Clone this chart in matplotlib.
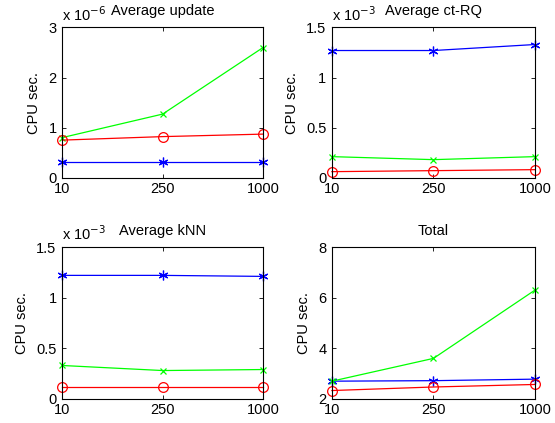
import matplotlib
matplotlib.use('Agg')
import matplotlib.pyplot as plt

plt.rcParams['font.family'] = ['Liberation Sans', 'DejaVu Sans']
plt.rcParams['font.size'] = 10

# x categories (number of ...), plotted at equal spacing
x_labels = ['10', '250', '1000']

# Average update, seconds (x 1e-6)
update_blue = [0.32e-6, 0.32e-6, 0.32e-6]
update_green = [0.80e-6, 1.27e-6, 2.60e-6]
update_red = [0.75e-6, 0.82e-6, 0.87e-6]

# Average ct-RQ, seconds (x 1e-3)
ctrq_blue = [1.27e-3, 1.27e-3, 1.33e-3]
ctrq_green = [0.21e-3, 0.18e-3, 0.21e-3]
ctrq_red = [0.06e-3, 0.07e-3, 0.08e-3]

# Average kNN, seconds (x 1e-3)
knn_blue = [1.22e-3, 1.22e-3, 1.21e-3]
knn_green = [0.33e-3, 0.28e-3, 0.29e-3]
knn_red = [0.12e-3, 0.12e-3, 0.12e-3]

# Total, seconds
total_blue = [2.70, 2.72, 2.78]
total_green = [2.70, 3.60, 6.30]
total_red = [2.33, 2.47, 2.57]

panels = [
    ('Average update', update_blue, update_green, update_red, 1e-6, '-6', (0, 3), [0, 1, 2, 3], ['0', '1', '2', '3']),
    ('Average ct-RQ', ctrq_blue, ctrq_green, ctrq_red, 1e-3, '-3', (0, 1.5), [0, 0.5, 1, 1.5], ['0', '0.5', '1', '1.5']),
    ('Average kNN', knn_blue, knn_green, knn_red, 1e-3, '-3', (0, 1.5), [0, 0.5, 1, 1.5], ['0', '0.5', '1', '1.5']),
    ('Total', total_blue, total_green, total_red, 1, None, (2, 8), [2, 4, 6, 8], ['2', '4', '6', '8']),
]

# axes rectangles in figure fractions
positions = [
    [0.112, 0.580, 0.362, 0.355],
    [0.598, 0.580, 0.366, 0.355],
    [0.112, 0.057, 0.362, 0.359],
    [0.598, 0.057, 0.366, 0.359],
]

# MATLAB-like asterisk marker
star = (6, 2, 0)

fig = plt.figure(figsize=(5.55, 4.23), dpi=100)

xs = list(range(len(x_labels)))
for (title, blue, green, red, scale, exp, ylim, yticks, ylabels), pos in zip(panels, positions):
    ax = fig.add_axes(pos)
    ax.plot(xs, [v / scale for v in blue], color='#0000ff', marker=star, ms=7, mew=0.9, lw=0.9, clip_on=False)
    ax.plot(xs, [v / scale for v in green], color='#00ff00', marker='x', ms=5, mew=0.9, lw=0.9, clip_on=False)
    ax.plot(xs, [v / scale for v in red], color='#ff0000', marker='o', ms=7, mfc='none', mew=0.9, lw=0.9, clip_on=False)
    ax.set_xlim(0, 2)
    ax.set_ylim(*ylim)
    ax.set_xticks(xs)
    ax.set_xticklabels(x_labels)
    ax.set_yticks(yticks)
    ax.set_yticklabels(ylabels, va='center_baseline')
    ax.tick_params(direction='in', top=True, right=True, length=3, width=0.6, labelsize=10.5)
    ax.tick_params(axis='x', pad=3)
    ax.tick_params(axis='y', pad=4)
    for s in ax.spines.values():
        s.set_linewidth(0.8)
    ax.set_ylabel('CPU sec.', fontsize=10.5, labelpad=5)
    ax.set_title(title, fontsize=10.5, pad=9)
    if exp is not None:
        ax.text(0.0, 1.025, 'x 10$^{' + exp + '}$', transform=ax.transAxes, fontsize=10.5, ha='left', va='bottom')

fig.savefig('out.png', dpi=100)
